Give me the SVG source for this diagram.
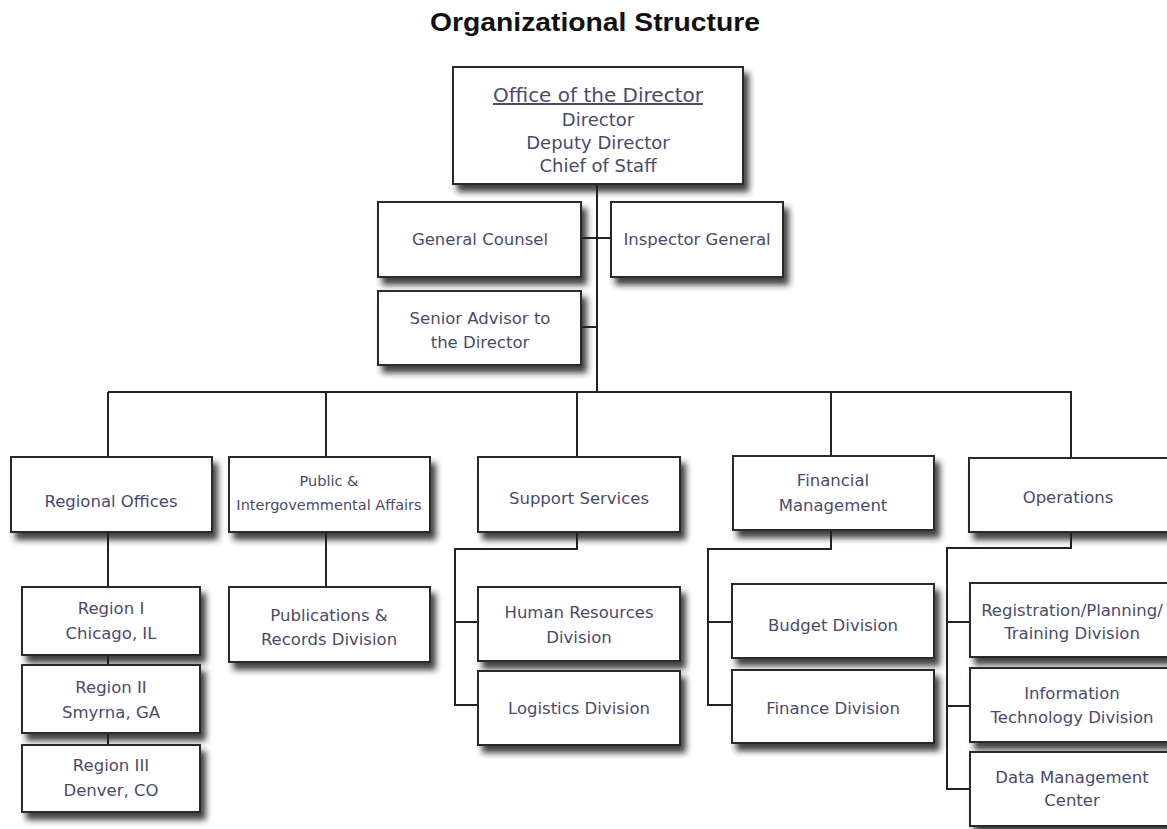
<svg xmlns="http://www.w3.org/2000/svg" width="1167" height="829" viewBox="0 0 1167 829">
<defs>
<filter id="sh" x="-10%" y="-10%" width="125%" height="140%">
<feDropShadow dx="5" dy="7" stdDeviation="3" flood-color="#1a1a1a" flood-opacity="0.85"/>
</filter>
<style>
.box{fill:#fff;stroke:#2a2a2a;stroke-width:2;filter:url(#sh)}
.t{font-family:"DejaVu Sans",sans-serif;font-size:16.5px;fill:#4a4a6e;text-anchor:middle}
.s{font-size:14.5px}
.c{fill:none;stroke:#222;stroke-width:2}
.title{font-family:"Liberation Sans",sans-serif;font-weight:bold;font-size:25px;fill:#111;text-anchor:middle}
</style>
</defs>
<rect width="1167" height="829" fill="#fff"/>
<text class="title" x="595" y="31" textLength="330" lengthAdjust="spacingAndGlyphs">Organizational Structure</text>
<g id="connectors">
<path class="c" d="M597,184 V392 M581,238 H611 M581,327 H597 M108,392 H1072 M108,392 V457 M326,392 V457 M577,392 V457 M831,392 V457 M1071,392 V458"/>
<path class="c" d="M108,532 V587 M108,655 V665 M108,733 V745 M326,532 V587"/>
<path class="c" d="M577,532 V549 H455 V705 H478 M455,622 H478"/>
<path class="c" d="M831,530 V549 H708 V705 H733 M708,622 H733"/>
<path class="c" d="M1071,532 V548 H947 V789 H970 M947,622 H970 M947,706 H970"/>
</g>
<g id="director"><rect class="box" x="453" y="67" width="290" height="117"/>
<text class="t" x="598" y="102" style="font-size:20px;text-decoration:underline">Office of the Director</text>
<text class="t" x="598" y="126" style="font-size:18px">Director</text>
<text class="t" x="598" y="149" style="font-size:18px">Deputy Director</text>
<text class="t" x="598" y="172" style="font-size:18px">Chief of Staff</text></g>
<g id="general-counsel"><rect class="box" x="378" y="202" width="203" height="75"/><text class="t" x="480" y="245">General Counsel</text></g>
<g id="inspector-general"><rect class="box" x="611" y="202" width="172" height="75"/><text class="t" x="697" y="245">Inspector General</text></g>
<g id="senior-advisor"><rect class="box" x="378" y="291" width="203" height="74"/><text class="t" x="480" y="324">Senior Advisor to</text><text class="t" x="480" y="348">the Director</text></g>
<g id="regional-offices"><rect class="box" x="11" y="457" width="201" height="75"/><text class="t" x="111" y="507">Regional Offices</text></g>
<g id="public-affairs"><rect class="box" x="229" y="457" width="201" height="75"/><text class="t s" x="329" y="486">Public &amp;</text><text class="t s" x="329" y="510">Intergovemmental Affairs</text></g>
<g id="support-services"><rect class="box" x="478" y="457" width="202" height="75"/><text class="t" x="579" y="504">Support Services</text></g>
<g id="financial-management"><rect class="box" x="733" y="456" width="201" height="74"/><text class="t" x="833" y="486">Financial</text><text class="t" x="833" y="511">Management</text></g>
<g id="operations"><rect class="box" x="969" y="458" width="205" height="74"/><text class="t" x="1068" y="503">Operations</text></g>
<g id="region-1"><rect class="box" x="22" y="587" width="178" height="68"/><text class="t" x="111" y="614">Region I</text><text class="t" x="111" y="639">Chicago, IL</text></g>
<g id="region-2"><rect class="box" x="22" y="665" width="178" height="68"/><text class="t" x="111" y="693">Region II</text><text class="t" x="111" y="718">Smyrna, GA</text></g>
<g id="region-3"><rect class="box" x="22" y="745" width="178" height="67"/><text class="t" x="111" y="771">Region III</text><text class="t" x="111" y="796">Denver, CO</text></g>
<g id="publications"><rect class="box" x="229" y="587" width="201" height="75"/><text class="t" x="329" y="621">Publications &amp;</text><text class="t" x="329" y="645">Records Division</text></g>
<g id="human-resources"><rect class="box" x="478" y="587" width="202" height="74"/><text class="t" x="579" y="618">Human Resources</text><text class="t" x="579" y="643">Division</text></g>
<g id="logistics"><rect class="box" x="478" y="671" width="202" height="74"/><text class="t" x="579" y="714">Logistics Division</text></g>
<g id="budget"><rect class="box" x="732" y="584" width="202" height="74"/><text class="t" x="833" y="631">Budget Division</text></g>
<g id="finance"><rect class="box" x="732" y="670" width="202" height="73"/><text class="t" x="833" y="714">Finance Division</text></g>
<g id="registration"><rect class="box" x="970" y="583" width="204" height="74"/><text class="t" x="1072" y="616">Registration/Planning/</text><text class="t" x="1072" y="639">Training Division</text></g>
<g id="information-technology"><rect class="box" x="970" y="668" width="204" height="74"/><text class="t" x="1072" y="699">Information</text><text class="t" x="1072" y="723">Technology Division</text></g>
<g id="data-management"><rect class="box" x="970" y="752" width="204" height="74"/><text class="t" x="1072" y="783">Data Management</text><text class="t" x="1072" y="806">Center</text></g>
</svg>
